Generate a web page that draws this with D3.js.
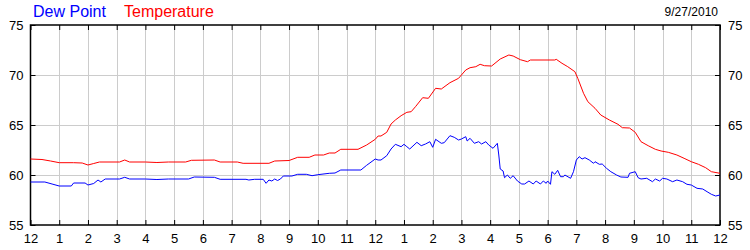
<!DOCTYPE html>
<html>
<head>
<meta charset="UTF-8">
<title>Dew Point / Temperature</title>
<script src="https://cdn.jsdelivr.net/npm/d3@7/dist/d3.min.js"></script>
<style>
  body { margin: 0; background: #fff; }
  text { font-family: Arial, "Liberation Sans", sans-serif; }
</style>
</head>
<body>
<svg width="750" height="250"></svg>
<script>
// readings: [hour since midnight, degrees F]
var temperature = [[0,61.6],[0.4,61.55],[0.7,61.4],[1.0,61.23],[1.5,61.23],[1.8,61.2],[2.0,61.0],[2.2,61.15],[2.4,61.3],[3.1,61.3],[3.28,61.5],[3.45,61.3],[4.0,61.3],[4.4,61.25],[4.8,61.3],[5.4,61.3],[5.6,61.47],[6.4,61.5],[6.6,61.3],[7.2,61.3],[7.4,61.17],[8.3,61.17],[8.5,61.4],[9.0,61.45],[9.3,61.77],[9.7,61.77],[9.9,62.0],[10.2,62.0],[10.4,62.2],[10.6,62.2],[10.8,62.57],[11.4,62.57],[11.7,63.0],[12.0,63.57],[12.1,63.9],[12.2,63.9],[12.4,64.27],[12.55,65.1],[12.7,65.5],[12.9,65.93],[13.1,66.27],[13.25,66.33],[13.4,66.83],[13.65,67.73],[13.85,67.67],[14.1,68.67],[14.3,68.6],[14.6,69.23],[14.9,69.67],[15.15,70.5],[15.3,70.73],[15.5,70.83],[15.65,71.07],[15.8,70.93],[16.05,70.9],[16.35,71.6],[16.65,72.0],[16.8,71.9],[17.05,71.53],[17.3,71.33],[17.4,71.5],[18.25,71.5],[18.3,71.57],[18.5,71.17],[18.7,70.83],[18.95,70.33],[19.05,69.67],[19.25,68.17],[19.4,67.33],[19.65,66.67],[19.85,66.0],[20.15,65.5],[20.45,65.07],[20.6,64.73],[20.85,64.7],[21.05,64.27],[21.25,63.33],[21.5,62.93],[21.75,62.57],[21.95,62.4],[22.2,62.27],[22.5,62.0],[22.75,61.67],[23.0,61.33],[23.25,61.07],[23.5,60.73],[23.7,60.33],[24,60.17]];

var dewPoint = [[0,59.3],[0.5,59.3],[0.75,59.1],[1.0,58.9],[1.42,58.9],[1.5,59.2],[1.9,59.2],[2.0,59.0],[2.2,59.15],[2.35,59.5],[2.45,59.3],[2.6,59.6],[3.1,59.6],[3.28,59.77],[3.45,59.6],[4.0,59.6],[4.4,59.55],[4.8,59.6],[5.5,59.6],[5.7,59.8],[6.4,59.77],[6.6,59.57],[7.5,59.57],[7.6,59.5],[7.8,59.57],[8.1,59.57],[8.2,59.17],[8.3,59.5],[8.4,59.4],[8.5,59.6],[8.6,59.45],[8.7,59.6],[8.8,59.9],[9.1,59.9],[9.3,60.07],[9.6,60.07],[9.8,59.93],[10.0,60.03],[10.4,60.17],[10.6,60.2],[10.8,60.5],[11.5,60.5],[11.7,60.97],[12.0,61.6],[12.1,61.5],[12.2,61.5],[12.4,61.93],[12.55,62.6],[12.7,63.07],[12.9,62.83],[13.0,63.07],[13.1,62.83],[13.2,62.6],[13.45,63.27],[13.6,62.93],[13.75,63.1],[13.9,63.33],[14.0,62.77],[14.1,63.57],[14.3,63.17],[14.4,63.23],[14.6,63.93],[14.75,63.77],[14.9,63.5],[15.0,63.6],[15.15,63.83],[15.2,63.4],[15.3,63.67],[15.45,63.17],[15.6,63.33],[15.7,63.1],[15.85,63.33],[15.95,63.0],[16.1,62.67],[16.25,63.17],[16.3,62.0],[16.35,60.6],[16.45,60.4],[16.5,59.73],[16.6,60.0],[16.7,59.67],[16.8,59.93],[16.95,59.4],[17.1,59.1],[17.2,59.1],[17.35,59.4],[17.5,59.1],[17.6,59.4],[17.75,59.1],[17.85,59.4],[17.95,59.17],[18.0,59.4],[18.1,59.07],[18.15,60.33],[18.25,60.07],[18.35,60.47],[18.45,59.83],[18.55,59.83],[18.6,60.0],[18.8,59.67],[18.9,60.33],[19.0,61.5],[19.1,61.83],[19.2,61.6],[19.3,61.73],[19.45,61.5],[19.6,61.17],[19.65,61.33],[19.8,61.07],[19.9,61.1],[20.05,60.67],[20.2,60.33],[20.4,60.0],[20.55,59.8],[20.8,59.77],[20.85,60.17],[21.05,60.33],[21.15,59.73],[21.25,59.6],[21.45,59.67],[21.65,59.33],[21.75,59.6],[21.9,59.4],[22.0,59.67],[22.15,59.6],[22.35,59.33],[22.5,59.5],[22.7,59.33],[22.85,59.07],[23.0,59.0],[23.2,58.67],[23.4,58.6],[23.55,58.33],[23.7,58.07],[23.85,57.9],[24,58.0]];

var hourLabels = ["12","1","2","3","4","5","6","7","8","9","10","11","12","1","2","3","4","5","6","7","8","9","10","11","12"];
var yTicks = [55, 60, 65, 70, 75];
var dateLabel = "9/27/2010";

var svg = d3.select("svg");
var plotL = 30.5, plotR = 720, plotT = 25, plotB = 225;

var x = d3.scaleLinear().domain([0, 24]).range([plotL, plotR]);
var y = d3.scaleLinear().domain([55, 75]).range([plotB, plotT]);

// grid
var grid = svg.append("g");
grid.selectAll("line.v")
  .data(d3.range(1, 24))
  .enter().append("line")
  .attr("x1", d => Math.round(x(d)) + 0.5).attr("x2", d => Math.round(x(d)) + 0.5)
  .attr("y1", plotT).attr("y2", plotB)
  .attr("stroke", "#cccccc").attr("stroke-width", 1);
grid.selectAll("line.h")
  .data(yTicks.slice(1, -1))
  .enter().append("line")
  .attr("x1", plotL).attr("x2", plotR)
  .attr("y1", d => y(d) + 0.5).attr("y2", d => y(d) + 0.5)
  .attr("stroke", "#cccccc").attr("stroke-width", 1);

// axes, ticks pointing inward
var xTop = d3.axisBottom(x).tickValues(d3.range(0, 25)).tickSize(5).tickFormat("");
var xBot = d3.axisBottom(x).tickValues(d3.range(0, 25)).tickSize(-5).tickPadding(9)
  .tickFormat((d, i) => hourLabels[i]);
var yLeft = d3.axisRight(y).tickValues(yTicks).tickSize(5).tickFormat("");
var yRight = d3.axisLeft(y).tickValues(yTicks).tickSize(5).tickFormat("");

function styleAxis(g) {
  g.select(".domain").remove();
  g.selectAll(".tick line").attr("stroke", "#000");
}
svg.append("g").attr("transform", "translate(0," + plotT + ")").call(xTop).call(styleAxis);
svg.append("g").attr("transform", "translate(0," + plotB + ")").call(xBot).call(styleAxis)
  .selectAll("text").attr("font-size", 13).attr("font-family", "Arial, 'Liberation Sans', sans-serif").attr("fill", "#000");
svg.append("g").attr("transform", "translate(" + plotL + ",0)").call(yLeft).call(styleAxis);
svg.append("g").attr("transform", "translate(" + plotR + ",0)").call(yRight).call(styleAxis);

// frame
svg.append("rect")
  .attr("x", plotL).attr("y", plotT)
  .attr("width", plotR - plotL).attr("height", plotB - plotT)
  .attr("fill", "none").attr("stroke", "#000").attr("stroke-width", 1.5);

// y labels both sides
svg.append("g").selectAll("text")
  .data(yTicks).enter().append("text")
  .attr("x", plotL - 7).attr("y", d => y(d)).attr("dy", "0.35em")
  .attr("text-anchor", "end").attr("font-size", 13)
  .text(d => d);
svg.append("g").selectAll("text")
  .data(yTicks).enter().append("text")
  .attr("x", plotR + 8).attr("y", d => y(d)).attr("dy", "0.35em")
  .attr("text-anchor", "start").attr("font-size", 13)
  .text(d => d);

// lines
var line = d3.line().x(d => x(d[0])).y(d => y(d[1]));
svg.append("path").datum(temperature)
  .attr("d", line).attr("fill", "none").attr("stroke", "#ff0000").attr("stroke-width", 1);
svg.append("path").datum(dewPoint)
  .attr("d", line).attr("fill", "none").attr("stroke", "#0000ff").attr("stroke-width", 1);

// legend / title
svg.append("text").attr("x", 33).attr("y", 17).attr("font-size", 16).attr("fill", "#0000ff").text("Dew Point");
svg.append("text").attr("x", 124).attr("y", 17).attr("font-size", 16).attr("fill", "#ff0000").text("Temperature");
svg.append("text").attr("x", 718).attr("y", 16).attr("text-anchor", "end").attr("font-size", 12).attr("fill", "#000").text(dateLabel);
</script>
</body>
</html>
